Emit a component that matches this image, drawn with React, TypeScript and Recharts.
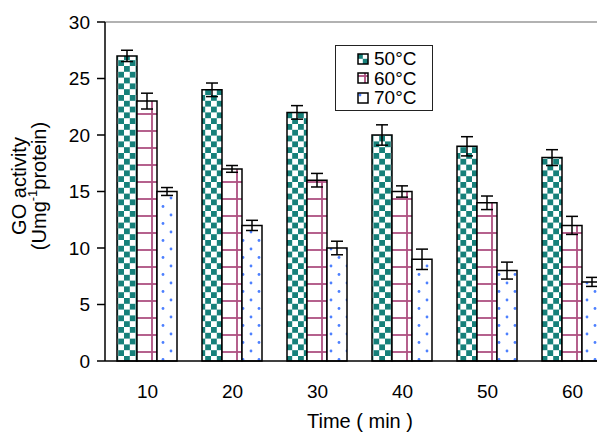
import {
  Bar,
  BarChart,
  ErrorBar,
  Label,
  ReferenceLine,
  XAxis,
  YAxis,
} from "recharts";

const times = ["10", "20", "30", "40", "50", "60"];
const t50 = [27, 24, 22, 20, 19, 18];
const t60 = [23, 17, 16, 15, 14, 12];
const t70 = [15, 12, 10, 9, 8, 7];
const err50 = [0.5, 0.6, 0.6, 0.9, 0.85, 0.7];
const err60 = [0.7, 0.3, 0.6, 0.5, 0.6, 0.8];
const err70 = [0.35, 0.45, 0.6, 0.9, 0.75, 0.4];
const yTicks = [0, 5, 10, 15, 20, 25, 30];

const data = times.map((t, i) => ({
  time: t,
  t50: t50[i],
  t60: t60[i],
  t70: t70[i],
  e50: err50[i],
  e60: err60[i],
  e70: err70[i],
}));

const FONT = "'Liberation Sans', Arial, sans-serif";

const series = [
  { key: "t50", err: "e50", name: "50°C", fill: "url(#checker)" },
  { key: "t60", err: "e60", name: "60°C", fill: "url(#grid)" },
  { key: "t70", err: "e70", name: "70°C", fill: "url(#dots)" },
];

// legend sits on top of the plot, outside recharts' layout
function LegendBox() {
  return (
    <div
      style={{
        position: "absolute",
        left: 327,
        top: 37,
        border: "1px solid #222",
        background: "#fff",
        width: 98,
        height: 66,
        boxSizing: "border-box",
        padding: "3px 0 0 21px",
        fontFamily: FONT,
        fontSize: 19,
        lineHeight: "19.5px",
        color: "#000",
      }}
    >
      {series.map((s) => (
        <div key={s.key} style={{ display: "flex", alignItems: "center" }}>
          <svg width={12} height={12} style={{ marginRight: 5 }}>
            <rect x={1} y={1} width={10} height={10} fill={s.fill} stroke="#000" strokeWidth={1.5} />
          </svg>
          <span>{s.name}</span>
        </div>
      ))}
    </div>
  );
}

function YTitle() {
  return (
    <g fontFamily={FONT} fontSize={20} fill="#000">
      <text x={11} y={178} transform="rotate(-90 11 178)" textAnchor="middle" dominantBaseline="central">
        GO activity
      </text>
      <text x={31} y={178} transform="rotate(-90 31 178)" textAnchor="middle" dominantBaseline="central">
        (Umg
        <tspan fontSize={13} dy={-7}>-1</tspan>
        <tspan dy={7}>protein)</tspan>
      </text>
    </g>
  );
}

export default function App() {
  return (
    <div style={{ position: "relative", width: 597, height: 425, overflow: "hidden" }}>
      <BarChart
        width={640}
        height={425}
        data={data}
        margin={{ top: 14, right: 33, bottom: 5, left: 37 }}
        barCategoryGap={12}
        barGap={0}
      >
        <defs>
          <pattern id="checker" width={11.6} height={11.6} patternUnits="userSpaceOnUse">
            <rect width={11.6} height={11.6} fill="#fff" />
            <rect x={0} y={0} width={5.8} height={5.8} fill="#16807a" />
            <rect x={5.8} y={5.8} width={5.8} height={5.8} fill="#16807a" />
          </pattern>
          <pattern id="grid" width={17} height={17} patternUnits="userSpaceOnUse">
            <rect width={17} height={17} fill="#fff" />
            <line x1={0} y1={4} x2={17} y2={4} stroke="#ad4f80" strokeWidth={1.8} />
            <line x1={8} y1={0} x2={8} y2={17} stroke="#ad4f80" strokeWidth={1.8} />
          </pattern>
          <pattern id="dots" width={16} height={17} patternUnits="userSpaceOnUse">
            <rect width={16} height={17} fill="#fff" />
            <circle cx={3} cy={3} r={1.4} fill="#4d80ff" />
            <circle cx={11} cy={11.5} r={1.4} fill="#4d80ff" />
          </pattern>
        </defs>
        <XAxis
          dataKey="time"
          axisLine={{ stroke: "#000", strokeWidth: 1.5 }}
          tickLine={false}
          tickSize={0}
          tickMargin={24}
          height={67}
          tick={{ fill: "#000", fontSize: 19, fontFamily: FONT }}
        >
          <Label
            value="Time ( min )"
            position="insideBottom"
            offset={0}
            style={{ fill: "#000", fontSize: 20, fontFamily: FONT }}
          />
        </XAxis>
        <YAxis
          domain={[0, 30]}
          ticks={yTicks}
          width={60}
          axisLine={{ stroke: "#000", strokeWidth: 1.5 }}
          tickLine={{ stroke: "#000", strokeWidth: 1.5 }}
          tickSize={8}
          tickMargin={7}
          tick={{ fill: "#000", fontSize: 19, fontFamily: FONT }}
        >
          <Label content={() => <YTitle />} />
        </YAxis>
        <ReferenceLine y={30} stroke="#999" strokeWidth={1.5} />
        {series.map((s) => (
          <Bar
            key={s.key}
            dataKey={s.key}
            name={s.name}
            fill={s.fill}
            stroke="#000"
            strokeWidth={1.5}
            isAnimationActive={false}
          >
            <ErrorBar dataKey={s.err} width={6} stroke="#000" strokeWidth={1.5} direction="y" />
          </Bar>
        ))}
      </BarChart>
      <LegendBox />
    </div>
  );
}
